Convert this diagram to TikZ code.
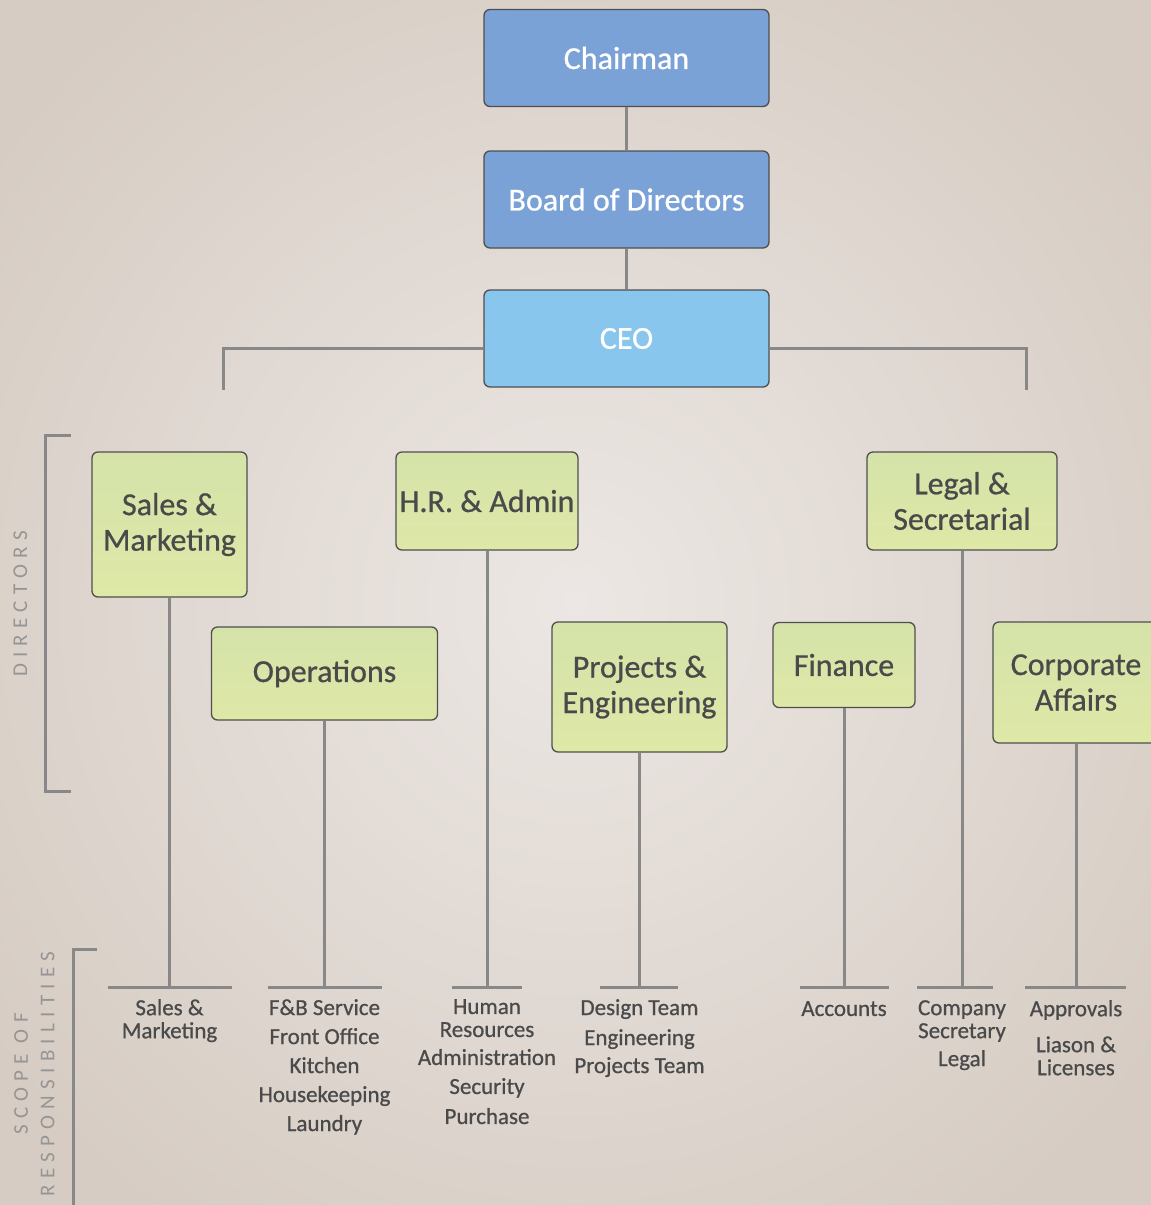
\documentclass[tikz,border=0pt]{standalone}
\usepackage{fontspec}
\setmainfont[FakeBold=0.7]{Carlito}
\newfontfamily\spacedfont[LetterSpace=30]{Carlito}
\definecolor{bgin}{HTML}{ECE7E4}
\definecolor{bgout}{HTML}{D6CCC3}
\definecolor{linegray}{HTML}{888888}
\definecolor{boxedge}{HTML}{4F4F4F}
\definecolor{blueA}{HTML}{7AA2D6}
\definecolor{blueB}{HTML}{88C6EE}
\definecolor{greenT}{HTML}{D5E3A9}
\definecolor{greenB}{HTML}{DEE8A7}
\definecolor{textgray}{HTML}{4A4A4A}
\definecolor{sidegray}{HTML}{959595}
\begin{document}
\begin{tikzpicture}[x=1pt,y=-1pt,
  conn/.style={draw=linegray, line width=3pt},
  boxbase/.style={draw=boxedge, line width=1.3pt, rounded corners=6pt, inner sep=0pt, align=center, font=\fontsize{32}{35.5}\selectfont},
  bluebox/.style={boxbase, fill=blueA, text=white, minimum width=285pt, minimum height=97pt},
  ceobox/.style={bluebox, fill=blueB},
  greenbox/.style={boxbase, top color=greenT, bottom color=greenB, text=textgray},
  scopetext/.style={text=textgray, font=\fontsize{23}{23}\selectfont, align=center, anchor=north, inner sep=0pt},
  sidetext/.style={text=sidegray, font=\spacedfont\fontsize{21}{26.5}\selectfont, align=center, rotate=90, inner sep=0pt}
]
\useasboundingbox (0,0) rectangle (1151,1205);
\clip (0,0) rectangle (1151,1205);
\shade[inner color=bgin, outer color=bgout] (-150,-150) rectangle (1301,1355);

% top chain
\node[bluebox] (chair) at (626.5,58) {Chairman};
\node[bluebox] (board) at (626.5,199.5) {Board of Directors};
\node[ceobox] (ceo) at (626.5,338.5) {CEO};
\draw[conn] (chair.south) -- (board.north);
\draw[conn] (board.south) -- (ceo.north);

\coordinate (lt) at (223,348);
\coordinate (ld) at (223,390);
\coordinate (rt) at (1026,348);
\coordinate (rd) at (1026,390);
\draw[conn] (ceo.west |- lt) -- (lt) -- (ld);
\draw[conn] (ceo.east |- rt) -- (rt) -- (rd);

% directors
\node[greenbox, minimum width=155pt, minimum height=145pt] (sales) at (169.5,524.5) {Sales \&\\Marketing};
\node[greenbox, minimum width=226pt, minimum height=93pt] (ops) at (324.5,673.5) {Operations};
\node[greenbox, minimum width=182pt, minimum height=98pt] (hr) at (487,501) {H.R. \& Admin};
\node[greenbox, minimum width=175pt, minimum height=130pt] (proj) at (639.5,687) {Projects \&\\Engineering};
\node[greenbox, minimum width=190pt, minimum height=98pt] (legal) at (962,501) {Legal \&\\Secretarial};
\node[greenbox, minimum width=142pt, minimum height=85pt] (fin) at (844,665) {Finance};
\node[greenbox, minimum width=166pt, minimum height=121pt] (corp) at (1076,682.5) {Corporate\\Affairs};

% bar coordinates
\coordinate (b1) at (169.5,987); \coordinate (b1l) at (108,987); \coordinate (b1r) at (232,987);
\coordinate (b2) at (324.5,987); \coordinate (b2l) at (268,987); \coordinate (b2r) at (382,987);
\coordinate (b3) at (487,987);   \coordinate (b3l) at (452,987); \coordinate (b3r) at (522,987);
\coordinate (b4) at (639.5,987); \coordinate (b4l) at (600,987); \coordinate (b4r) at (678,987);
\coordinate (b5) at (844,987);   \coordinate (b5l) at (800,987); \coordinate (b5r) at (889,987);
\coordinate (b6) at (962,987);   \coordinate (b6l) at (917,987); \coordinate (b6r) at (993,987);
\coordinate (b7) at (1076,987);  \coordinate (b7l) at (1025,987); \coordinate (b7r) at (1126,987);

\draw[conn] (sales.south) -- (b1);
\draw[conn] (ops.south) -- (b2);
\draw[conn] (hr.south) -- (b3);
\draw[conn] (proj.south) -- (b4);
\draw[conn] (fin.south) -- (b5);
\draw[conn] (legal.south) -- (b6);
\draw[conn] (corp.south) -- (b7);
\foreach \i in {1,...,7} {\draw[conn] (b\i l) -- (b\i r);}

% scope texts
\node[scopetext] (s1) at (169.5,999) {Sales \&\\Marketing};
\node[scopetext] (s2) at (324.5,999) {F\&B Service\\[6pt]Front Office\\[6pt]Kitchen\\[6pt]Housekeeping\\[6pt]Laundry};
\node[scopetext] (s3) at (487,999) {Human\\Resources\\[5pt]Administration\\[6pt]Security\\[7pt]Purchase};
\node[scopetext] (s4) at (639.5,999) {Design Team\\[7pt]Engineering\\[5pt]Projects Team};
\node[scopetext] (s5) at (844,1001) {Accounts};
\node[scopetext] (s6) at (962,1000) {Company\\Secretary\\[5pt]Legal};
\node[scopetext] (s7) at (1076,1000) {Approvals\\[13pt]Liason \&\\Licenses};

% side brackets
\coordinate (d1) at (71,435); \coordinate (d2) at (45,435);
\coordinate (d3) at (45,791); \coordinate (d4) at (71,791);
\draw[conn] (d1) -- (d2) -- (d3) -- (d4);
\node[sidetext] (dirlabel) at (20.5,604) {DIRECTORS};

\coordinate (r1) at (97,949); \coordinate (r2) at (73,949); \coordinate (r3) at (73,1215);
\draw[conn] (r1) -- (r2) -- (r3);
\node[sidetext] (scopelabel) at (34.5,1074) {SCOPE OF\\RESPONSIBILITIES};
\end{tikzpicture}
\end{document}
